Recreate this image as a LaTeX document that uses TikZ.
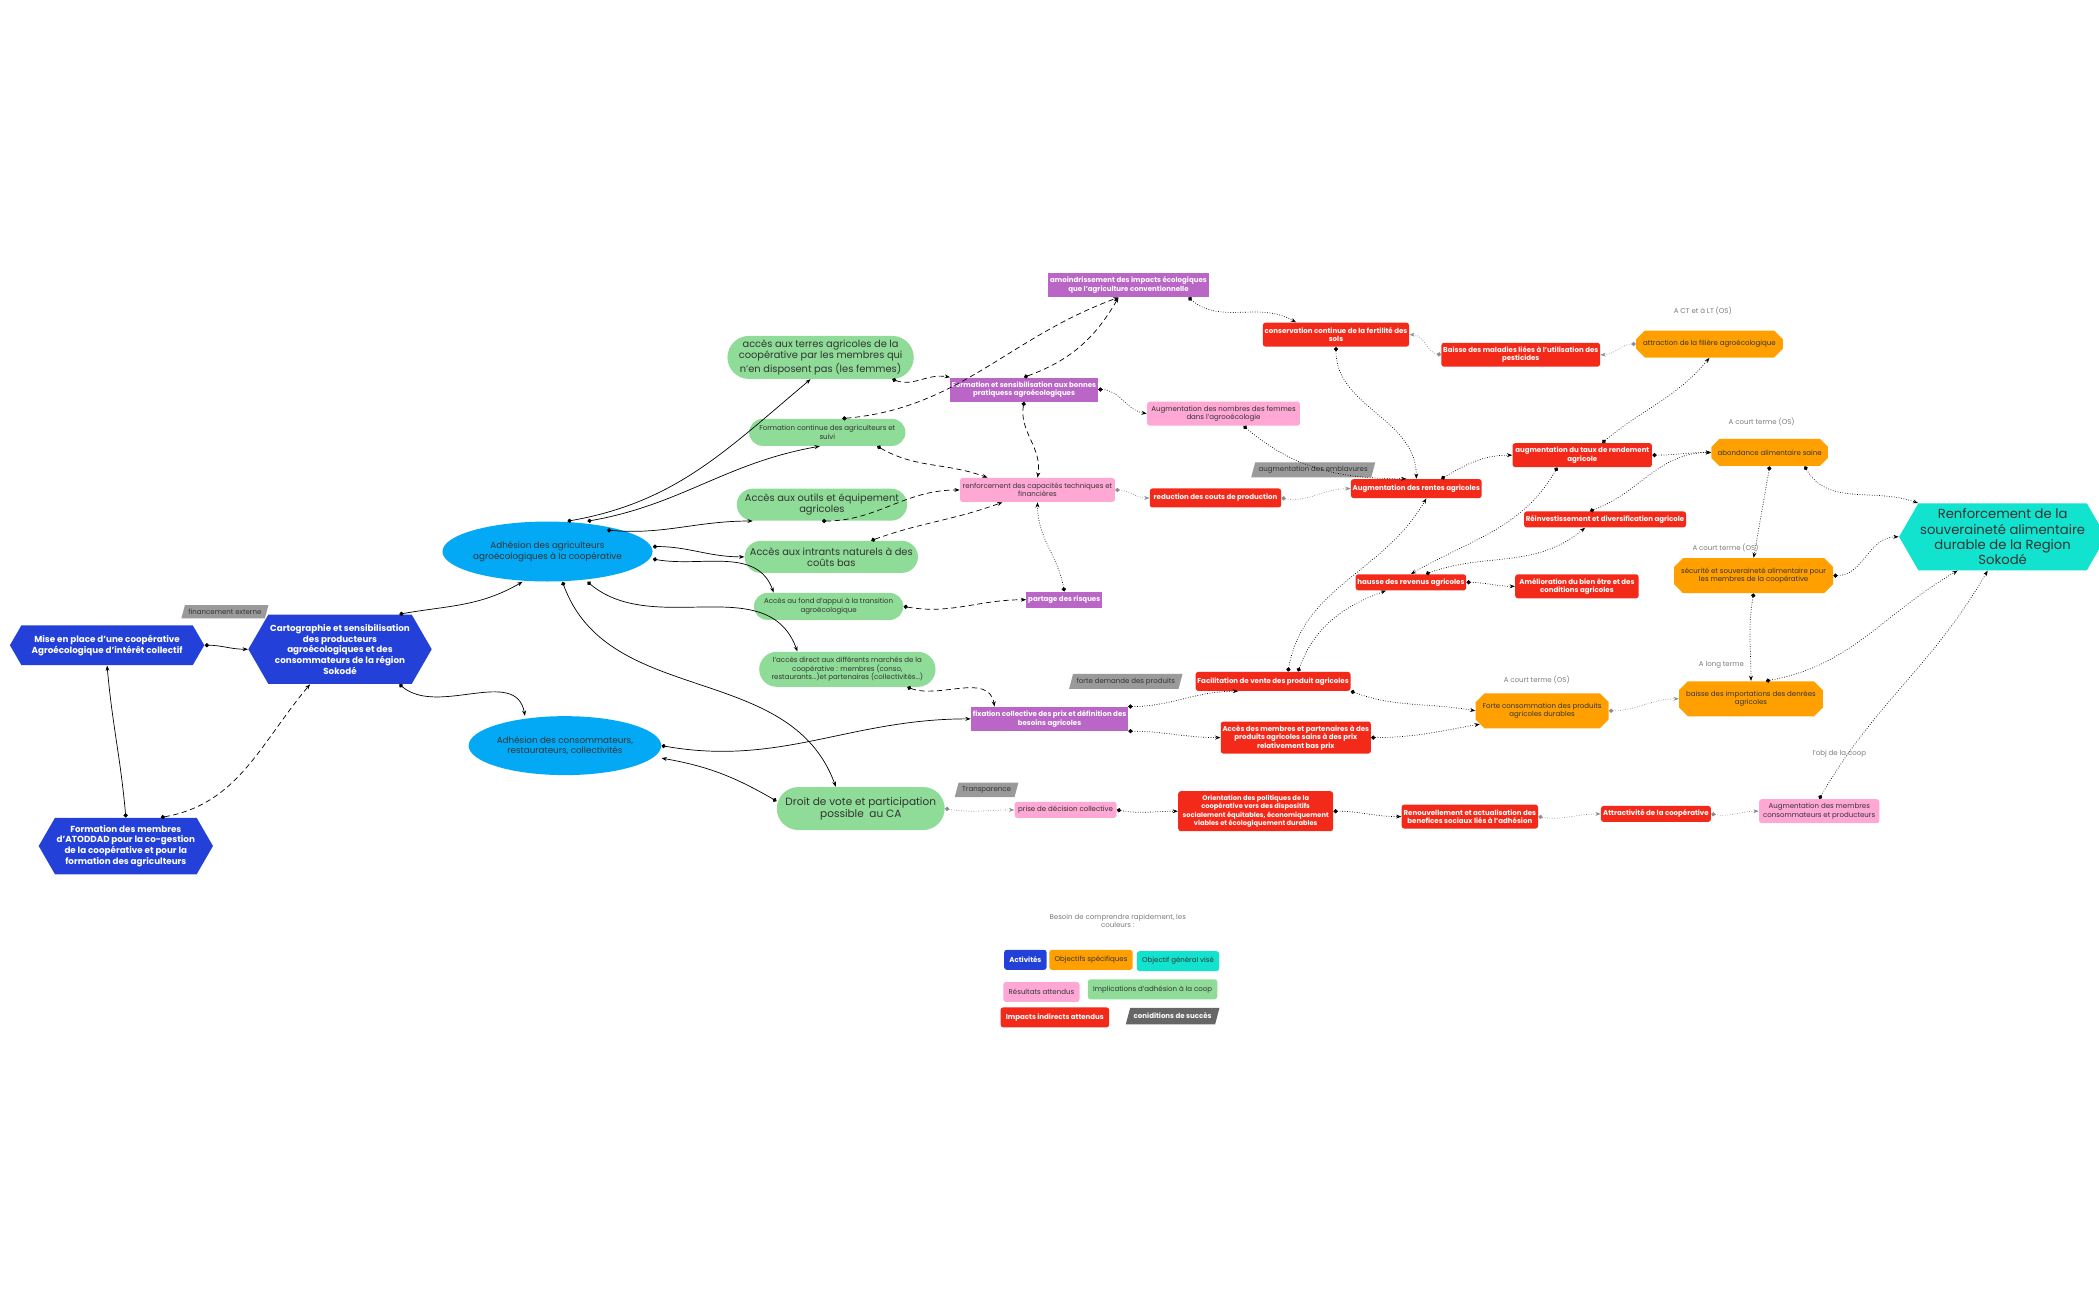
\documentclass[tikz,border=0pt]{standalone}
\usepackage{fontspec}
\setmainfont{Poppins}
\usetikzlibrary{arrows.meta,shapes.geometric,shapes.symbols,shapes.misc}
\definecolor{cActiv}{HTML}{2340D8}
\definecolor{cAdh}{HTML}{03A9F4}
\definecolor{cImpl}{HTML}{8EDC97}
\definecolor{cReal}{HTML}{B966C6}
\definecolor{cRes}{HTML}{FFA8D5}
\definecolor{cImp}{HTML}{F32A1A}
\definecolor{cObj}{HTML}{FFA000}
\definecolor{cGen}{HTML}{12E3CF}
\definecolor{cCond}{HTML}{9A9A9A}
\definecolor{cTxt}{HTML}{333333}
\tikzset{
  box/.style={align=center, inner sep=1pt, font=\fontsize{4}{4.8}\selectfont},
  activite/.style={box, signal, signal to=east and west, signal pointer angle=120, fill=cActiv, text=white, font=\fontsize{5}{6.1}\selectfont\bfseries},
  adhesion/.style={box, ellipse, inner sep=0pt, fill=cAdh, text=cTxt, font=\fontsize{5}{6.1}\selectfont},
  implication/.style={box, rounded rectangle, fill=cImpl, text=cTxt},
  realisation/.style={box, rectangle, fill=cReal, text=white, font=\fontsize{4}{4.8}\selectfont\bfseries},
  resultat/.style={box, rectangle, rounded corners=1.5pt, fill=cRes, text=cTxt},
  impact/.style={box, rectangle, rounded corners=1.5pt, fill=cImp, text=white, font=\fontsize{4}{4.8}\selectfont\bfseries},
  objectif/.style={box, chamfered rectangle, chamfered rectangle xsep=3pt, chamfered rectangle ysep=2pt, fill=cObj, text=cTxt},
  objgeneral/.style={box, signal, signal to=east and west, signal pointer angle=120, fill=cGen, text=cTxt, font=\fontsize{7.5}{8.8}\selectfont},
  condition/.style={box, trapezium, trapezium left angle=75, trapezium right angle=105, fill=cCond, text=cTxt, inner xsep=2pt, inner ysep=2.2pt},
  echeance/.style={box, text=cCond!80!black},
  legende/.style={box, rectangle, rounded corners=1.5pt, minimum height=0.4cm, inner xsep=3pt},
  lien/.style={{Circle[length=2.4pt]}-{Stealth[length=3pt]}, thin, black},
  lienA/.style={lien, densely dashed},
  lienB/.style={lien, densely dotted},
  lienC/.style={lien, densely dotted, black!45},
}
\begin{document}
\begin{tikzpicture}[x=0.0268cm, y=-0.0268cm]
\useasboundingbox (0,0) rectangle (1568,971);
% activites
\node[activite, minimum width=3.89cm, minimum height=0.8cm] (mise) at (80,482) {Mise en place d'une coopérative\\Agroécologique d'intérêt collectif};
\node[activite, minimum width=3.43cm, minimum height=1.39cm] (carto) at (254,485) {Cartographie et sensibilisation\\des producteurs\\agroécologiques et des\\consommateurs de la région\\Sokodé};
\node[activite, minimum width=3.43cm, minimum height=1.13cm] (atod) at (94,632) {Formation des membres\\d'ATODDAD pour la co-gestion\\de la coopérative et pour la\\formation des agriculteurs};
\node[condition] (fin) at (168,457) {financement externe};
% adhesions
\node[adhesion, minimum width=3.64cm, minimum height=1.2cm] (agri) at (409,412) {Adhésion des agriculteurs\\agroécologiques à la coopérative};
\node[adhesion, minimum width=3.48cm, minimum height=1.18cm] (conso) at (422,557) {Adhésion des consommateurs,\\restaurateurs, collectivités};
% implications
\node[implication, minimum width=3.8cm, minimum height=0.86cm, font=\fontsize{5.6}{6.4}\selectfont] (terres) at (613,267) {accès aux terres agricoles de la\\coopérative par les membres qui\\n'en disposent pas (les femmes)};
\node[implication, minimum width=3.2cm, minimum height=0.54cm] (formcont) at (618,323) {Formation continue des agriculteurs et\\suivi};
\node[implication, minimum width=3.48cm, minimum height=0.64cm, font=\fontsize{5.6}{6.4}\selectfont] (outils) at (614,377) {Accès aux outils et équipement\\agricoles};
\node[implication, minimum width=3.54cm, minimum height=0.64cm, font=\fontsize{5.6}{6.4}\selectfont] (intrants) at (621,416) {Accès aux intrants naturels à des\\coûts bas};
\node[implication, minimum width=3.06cm, minimum height=0.54cm] (fond) at (619,453) {Accès au fond d'appui à la transition\\agroécologique};
\node[implication, minimum width=3.6cm, minimum height=0.7cm] (marches) at (633,500) {l'accès direct aux différents marchés de la\\coopérative : membres (conso,\\restaurants...)et partenaires (collectivités...)};
\node[implication, minimum width=3.43cm, minimum height=0.86cm, font=\fontsize{6}{7}\selectfont] (vote) at (643,604) {Droit de vote et participation\\possible\ \ au CA};
% realisations
\node[realisation, minimum width=3.16cm, minimum height=0.48cm] (amoin) at (843,213) {amoindrissement des impacts écologiques\\que l'agriculture conventionnelle};
\node[realisation, minimum width=2.95cm, minimum height=0.48cm] (formsens) at (765,291) {Formation et sensibilisation aux bonnes\\pratiquess agroécologiques};
\node[realisation, minimum width=1.5cm, minimum height=0.32cm] (partage) at (795,448) {partage des risques};
\node[realisation, minimum width=3.1cm, minimum height=0.48cm] (fixation) at (784,537) {fixation collective des prix et définition des\\besoins agricoles};
% resultats
\node[resultat, minimum width=3.1cm, minimum height=0.48cm] (renf) at (775,366) {renforcement des capacités techniques et\\financières};
\node[resultat, minimum width=3.06cm, minimum height=0.48cm] (femmes) at (914,309) {Augmentation des nombres des femmes\\dans l'agrooécologie};
\node[resultat, minimum width=2.04cm, minimum height=0.32cm] (prise) at (796,605) {prise de décision collective};
\node[resultat, minimum width=2.41cm, minimum height=0.48cm] (augmemb) at (1359,606) {Augmentation des membres\\consommateurs et producteurs};
% impacts
\node[impact, minimum width=2.9cm, minimum height=0.48cm] (conserv) at (998,250) {conservation continue de la fertilité des\\sols};
\node[impact, minimum width=3.1cm, minimum height=0.48cm] (maladie) at (1136,265) {Baisse des maladies liées à l'utilisation des\\pesticides};
\node[impact, minimum width=2.63cm, minimum height=0.38cm] (reduc) at (908,372) {reduction des couts de production};
\node[impact, minimum width=2.57cm, minimum height=0.38cm] (rentes) at (1058,365) {Augmentation des rentes agricoles};
\node[impact, minimum width=2.79cm, minimum height=0.48cm] (rendement) at (1182,340) {augmentation du taux de rendement\\agricole};
\node[impact, minimum width=3.16cm, minimum height=0.32cm] (reinv) at (1199,388) {Réinvestissement et diversification agricole};
\node[impact, minimum width=2.2cm, minimum height=0.32cm] (hausse) at (1054,435) {hausse des revenus agricoles};
\node[impact, minimum width=2.47cm, minimum height=0.48cm] (bienetre) at (1178,438) {Amélioration du bien être et des\\conditions agricoles};
\node[impact, minimum width=3.06cm, minimum height=0.38cm] (facil) at (951,509) {Facilitation de vente des produit agricoles};
\node[impact, minimum width=2.95cm, minimum height=0.64cm] (accesmemb) at (968,551) {Accès des membres et partenaires à des\\produits agricoles sains à des prix\\relativement bas prix};
\node[impact, minimum width=3.1cm, minimum height=0.8cm, font=\fontsize{3.8}{4.6}\selectfont\bfseries] (orient) at (938,606) {Orientation des politiques de la\\coopérative vers des dispositifs\\socialement équitables, économiquement\\viables et écologiquement durables};
\node[impact, minimum width=2.73cm, minimum height=0.48cm] (renouv) at (1098,610) {Renouvellement et actualisation des\\benefices sociaux liés à l'adhésion};
\node[impact, minimum width=2.2cm, minimum height=0.32cm] (attract) at (1237,608) {Attractivité de la coopérative};
% objectifs specifiques
\node[objectif, minimum width=2.79cm, minimum height=0.54cm] (filiere) at (1277,257) {attraction de la filière agroécologique};
\node[objectif, minimum width=2.14cm, minimum height=0.54cm] (abond) at (1322,338) {abondance alimentaire saine};
\node[objectif, minimum width=3cm, minimum height=0.7cm] (secu) at (1310,430) {sécurité et souveraineté alimentaire pour\\les membres de la coopérative};
\node[objectif, minimum width=2.63cm, minimum height=0.7cm] (forteconso) at (1152,531) {Forte consommation des produits\\agricoles durables};
\node[objectif, minimum width=2.68cm, minimum height=0.7cm] (importat) at (1308,522) {baisse des importations des denrées\\agricoles};
\node[objgeneral, minimum width=3.48cm, minimum height=1.34cm] (souver) at (1496,401) {Renforcement de la\\souveraineté alimentaire\\durable de la Region\\Sokodé};
% conditions et echeances
\node[condition] (emblav) at (981,351) {augmentation des emblavures};
\node[condition] (demande) at (841,509) {forte demande des produits};
\node[condition] (transp) at (737,590) {Transparence};
\node[echeance] (ech1) at (1272,232) {A CT et à LT (OS)};
\node[echeance] (ech2) at (1316,315) {A court terme (OS)};
\node[echeance] (ech3) at (1289,409) {A court terme (OS)};
\node[echeance] (ech4) at (1148,508) {A court terme (OS)};
\node[echeance] (ech5) at (1286,497) {A long terme};
\node[echeance] (ech6) at (1374,563) {l'obj de la coop};
% legende
\node[echeance] (legtitre) at (835,688) {Besoin de comprendre rapidement, les\\couleurs :};
\node[legende, fill=cActiv, text=white, font=\fontsize{4}{4.8}\selectfont\bfseries] (leg1) at (766,717) {Activités};
\node[legende, fill=cObj, text=cTxt] (leg2) at (815,717) {Objectifs spécifiques};
\node[legende, fill=cGen, text=cTxt] (leg3) at (880,718) {Objectif général visé};
\node[legende, fill=cRes, text=cTxt] (leg4) at (778,741) {Résultats attendus};
\node[legende, fill=cImpl, text=cTxt] (leg5) at (861,739) {Implications d'adhésion à la coop};
\node[legende, fill=cImp, text=white, font=\fontsize{4}{4.8}\selectfont\bfseries] (leg6) at (788,760) {Impacts indirects attendus};
\node[condition, fill=black!60, text=white, font=\fontsize{4}{4.8}\selectfont\bfseries, inner ysep=3pt] (leg7) at (876,759) {coniditions de succès};
% liens des activites
\draw[lien] (mise.east) to[out=0,in=180] (carto.west);
\draw[lien] (atod.north) to[out=95,in=-85] (mise.south);
\draw[lienA] ([xshift=0.7cm]atod.north) to[out=10,in=230] ([xshift=-0.6cm]carto.south);
\draw[lien] ([xshift=-0.25cm]carto.north east) to[out=10,in=210] ([xshift=-0.5cm]agri.south);
\draw[lien] ([xshift=-0.25cm]carto.south east) to[out=-40,in=100] ([xshift=-0.8cm]conso.north);
% liens des adhesions
\draw[lien] ([xshift=0.4cm]agri.north) to[out=10,in=220] ([xshift=-0.2cm]terres.south);
\draw[lien] ([xshift=0.8cm]agri.north) to[out=10,in=190] ([xshift=-0.15cm]formcont.south);
\draw[lien] ([xshift=-0.3cm]agri.north east) to[out=-5,in=180] (outils.south west);
\draw[lien] ([yshift=0.1cm]agri.east) to[out=0,in=180] (intrants.west);
\draw[lien] ([yshift=-0.15cm]agri.east) to[out=-10,in=110] ([xshift=-1.1cm]fond.north);
\draw[lien] ([xshift=0.8cm]agri.south) to[out=-40,in=110] ([xshift=-1cm]marches.north);
\draw[lien] ([xshift=0.3cm]agri.south) to[out=-70,in=110] ([xshift=-0.5cm]vote.north);
\draw[lien] (conso.east) to[out=-10,in=180] (fixation.west);
\draw[lien] ([yshift=0.15cm]vote.west) to[out=150,in=-10] ([yshift=-0.25cm]conso.east);
% liens des implications
\draw[lienA] (terres.south east) to[out=-20,in=170] (formsens.north west);
\draw[lienA] ([xshift=0.3cm]formcont.north) to[out=5,in=200] ([xshift=-0.2cm]amoin.south);
\draw[lienA] ([xshift=1cm]formcont.south) to[out=-30,in=160] ([xshift=-1cm]renf.north);
\draw[lienA] (outils.south) to[out=0,in=180] (renf.west);
\draw[lienA] ([xshift=0.8cm]intrants.north) to[out=20,in=200] ([xshift=-0.7cm]renf.south);
\draw[lienA] (fond.east) to[out=-10,in=180] (partage.west);
\draw[lienA] ([xshift=1.2cm]marches.south) to[out=-20,in=100] ([xshift=-1.1cm]fixation.north);
\draw[lienA] (formsens.north) to[out=20,in=240] ([xshift=-0.2cm]amoin.south);
\draw[lienA] (formsens.south) to[out=-100,in=80] (renf.north);
\draw[lienB] (partage.north) to[out=100,in=-90] (renf.south);
% liens des resultats
\draw[lienB] ([xshift=1.2cm]amoin.south) to[out=-40,in=150] ([xshift=-0.8cm]conserv.north);
\draw[lienB] (formsens.east) to[out=0,in=170] (femmes.west);
\draw[lienC] (renf.east) to[out=0,in=180] (reduc.west);
\draw[lienB] ([xshift=0.4cm]femmes.south) to[out=-40,in=180] ([xshift=-0.2cm]rentes.north);
\draw[lienB] (conserv.south) to[out=-90,in=90] (rentes.north);
\draw[lienC] (reduc.east) to[out=-10,in=180] (rentes.west);
\draw[lienC] (maladie.west) to[out=170,in=0] (conserv.east);
\draw[lienC] (filiere.west) to[out=180,in=0] (maladie.east);
\draw[lienB] ([xshift=0.5cm]rentes.north) to[out=30,in=180] (rendement.west);
\draw[lienB] ([xshift=0.4cm]rendement.north) to[out=40,in=230] (filiere.south);
\draw[lienB] (rendement.east) to[out=0,in=180] (abond.west);
\draw[lienB] ([xshift=-0.3cm]reinv.north) to[out=20,in=180] (abond.west);
\draw[lienB] ([xshift=-0.5cm]rendement.south) to[out=-120,in=30] (hausse.north);
\draw[lienB] ([xshift=0.3cm]hausse.north) to[out=20,in=220] ([xshift=-0.4cm]reinv.south);
\draw[lienB] (hausse.east) to[out=0,in=180] (bienetre.west);
\draw[lienB] ([xshift=0.5cm]facil.north) to[out=70,in=200] ([xshift=-0.5cm]hausse.south);
\draw[lienB] ([xshift=0.3cm]facil.north) to[out=80,in=240] ([xshift=0.2cm]rentes.south);
\draw[lienB] (fixation.north east) to[out=0,in=180] ([xshift=-0.7cm]facil.south);
\draw[lienB] (fixation.south east) to[out=0,in=180] (accesmemb.west);
\draw[lienB] (facil.south east) to[out=-20,in=170] (forteconso.west);
\draw[lienB] (accesmemb.east) to[out=0,in=190] (forteconso.south west);
\draw[lienC] (forteconso.east) to[out=0,in=180] (importat.west);
\draw[lienB] (abond.south) to[out=-100,in=80] (secu.north);
\draw[lienB] (secu.south) to[out=-100,in=90] (importat.north);
\draw[lienB] ([xshift=0.7cm]abond.south) to[out=-60,in=160] (souver.north west);
\draw[lienB] (secu.east) to[out=0,in=180] (souver.west);
\draw[lienB] ([xshift=0.3cm]importat.north) to[out=10,in=210] ([xshift=-0.9cm]souver.south);
\draw[lienB] (augmemb.north) to[out=60,in=240] ([xshift=-0.3cm]souver.south);
\draw[lienC] (vote.east) to[out=-10,in=180] (prise.west);
\draw[lienB] (prise.east) to[out=-10,in=180] (orient.west);
\draw[lienB] (orient.east) to[out=0,in=180] (renouv.west);
\draw[lienC] (renouv.east) to[out=-10,in=180] (attract.west);
\draw[lienC] (attract.east) to[out=-10,in=180] (augmemb.west);
\end{tikzpicture}
\end{document}
